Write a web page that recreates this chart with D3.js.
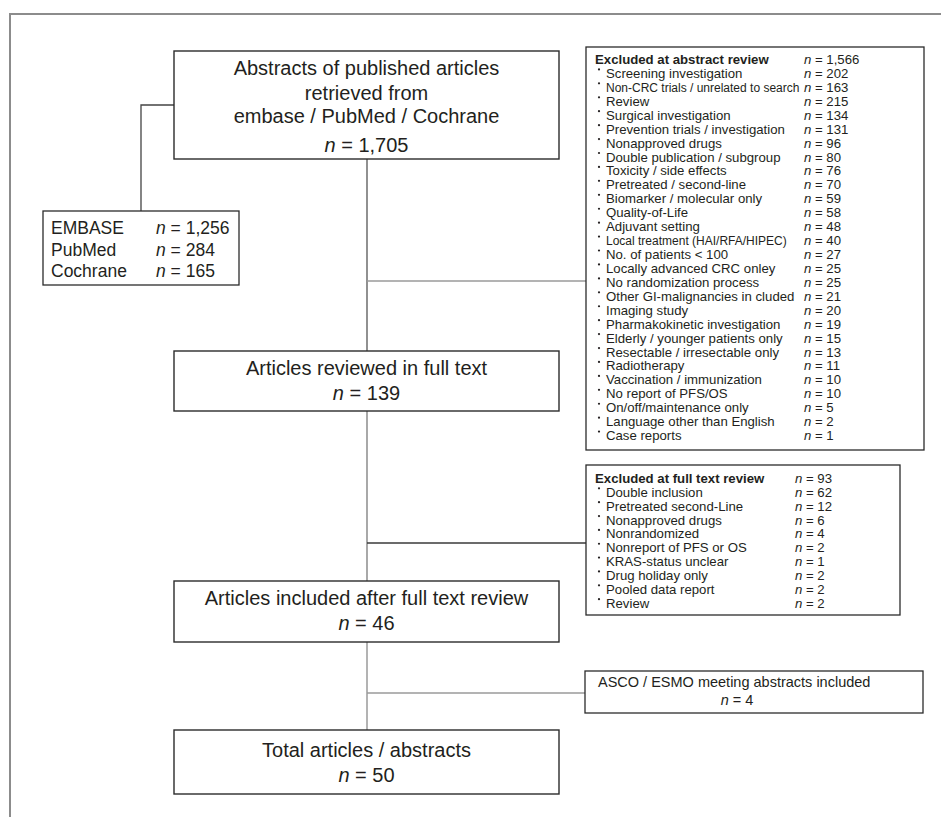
<!DOCTYPE html>
<html>
<head>
<meta charset="utf-8">
<script src="https://cdn.jsdelivr.net/npm/d3@7"></script>
<style>
  body { margin: 0; background: #fff; }
  text { font-family: "Liberation Sans", Arial, Helvetica, sans-serif; fill: #231f20; }
</style>
</head>
<body>
<svg id="svg"></svg>
<script>
// ---- data ----
const stageLines = [
  ["Abstracts of published articles", "retrieved from", "embase / PubMed / Cochrane"],
  ["Articles reviewed in full text"],
  ["Articles included after full text review"],
  ["Total articles / abstracts"]
];
const stageCounts = ["1,705", "139", "46", "50"];

const sourceNames = ["EMBASE", "PubMed", "Cochrane"];
const sourceCounts = ["1,256", "284", "165"];

const abstractHeader = "Excluded at abstract review";
const abstractTotal = "1,566";
const abstractReasons = [
  "Screening investigation", "Non-CRC trials / unrelated to search", "Review",
  "Surgical investigation", "Prevention trials / investigation", "Nonapproved drugs",
  "Double publication / subgroup", "Toxicity / side effects", "Pretreated / second-line",
  "Biomarker / molecular only", "Quality-of-Life", "Adjuvant setting",
  "Local treatment (HAI/RFA/HIPEC)", "No. of patients < 100", "Locally advanced CRC onley",
  "No randomization process", "Other GI-malignancies in cluded", "Imaging study",
  "Pharmakokinetic investigation", "Elderly / younger patients only", "Resectable / irresectable only",
  "Radiotherapy", "Vaccination / immunization", "No report of PFS/OS",
  "On/off/maintenance only", "Language other than English", "Case reports"
];
const abstractCounts = [
  "202", "163", "215", "134", "131", "96", "80", "76", "70", "59", "58", "48", "40", "27",
  "25", "25", "21", "20", "19", "15", "13", "11", "10", "10", "5", "2", "1"
];
// rows typeset a little narrower in the original
const condensedReasons = ["Non-CRC trials / unrelated to search", "Local treatment (HAI/RFA/HIPEC)"];

const fullTextHeader = "Excluded at full text review";
const fullTextTotal = "93";
const fullTextReasons = [
  "Double inclusion", "Pretreated second-Line", "Nonapproved drugs", "Nonrandomized",
  "Nonreport of PFS or OS", "KRAS-status unclear", "Drug holiday only", "Pooled data report", "Review"
];
const fullTextCounts = ["62", "12", "6", "4", "2", "1", "2", "2", "2"];

const meetingLabel = "ASCO / ESMO meeting abstracts included";
const meetingCount = "4";

// ---- layout ----
let layout = {
  width: 941, height: 817,
  frameX: 10, frameY: 14,
  spineX: 367,
  stageX: 174, stageW: 385,
  stages: [
    {y: 51, h: 108, base: [75, 100, 123, 152]},
    {y: 351, h: 60, base: [375, 400]},
    {y: 581, h: 61, base: [605, 630]},
    {y: 730, h: 64, base: [757, 782]}
  ],
  source: {x: 43, y: 211, w: 196, h: 74, labelX: 51, countX: 156, first: 234, last: 277, branchX: 141, branchY: 105},
  abstractBox: {x: 586, y: 47, w: 338, h: 403, headX: 595, bulletX: 599, textX: 606, countX: 804, first: 64, step: 13.93},
  fullBox: {x: 586, y: 465, w: 314, h: 150, headX: 595, bulletX: 599, textX: 606, countX: 795, first: 483, step: 13.85},
  meetingBox: {x: 585, y: 671, w: 338, h: 42, textX: 598, countX: 737, base: [687, 705]},
  branches: [{y: 281, color: "#9a9a9a"}, {y: 543, color: "#3a3a3a"}, {y: 693, color: "#9a9a9a"}],
  spineColors: ["#555", "#7a7a7a", "#8a8a8a"]
};

let svg = d3.select("#svg")
  .attr("width", layout.width)
  .attr("height", layout.height);

function addCount(sel, value) {
  sel.append("tspan").attr("font-style", "italic").text("n");
  sel.append("tspan").text(" = " + value);
}

// outer frame (top and left edges only)
svg.append("path")
  .attr("d", `M${layout.frameX},${layout.height} V${layout.frameY} H${layout.width}`)
  .attr("fill", "none")
  .attr("stroke", "#8c8c8c")
  .attr("stroke-width", 2);

// spine between stage boxes
const stageCenter = layout.stageX + layout.stageW / 2;
for (let i = 0; i < layout.stages.length - 1; i++) {
  let a = layout.stages[i], b = layout.stages[i + 1];
  svg.append("line")
    .attr("x1", layout.spineX).attr("x2", layout.spineX)
    .attr("y1", a.y + a.h).attr("y2", b.y)
    .attr("stroke", layout.spineColors[i])
    .attr("stroke-width", 1.3);
}

// branches out to side boxes
svg.selectAll(".branch")
  .data(layout.branches)
  .join("line")
  .attr("class", "branch")
  .attr("x1", layout.spineX)
  .attr("x2", layout.abstractBox.x)
  .attr("y1", d => d.y).attr("y2", d => d.y)
  .attr("stroke", d => d.color)
  .attr("stroke-width", 1.3);

// connector to source box
const src = layout.source;
svg.append("path")
  .attr("d", `M${layout.stageX},${src.branchY} H${src.branchX} V${src.y}`)
  .attr("fill", "none")
  .attr("stroke", "#444")
  .attr("stroke-width", 1.3);

// stage boxes
const stageGroups = svg.selectAll(".stage")
  .data(stageLines.map((lines, i) => ({lines, count: stageCounts[i], box: layout.stages[i]})))
  .join("g")
  .attr("class", "stage");

stageGroups.append("rect")
  .attr("x", layout.stageX).attr("y", d => d.box.y)
  .attr("width", layout.stageW).attr("height", d => d.box.h)
  .attr("fill", "#fff").attr("stroke", "#2b2b2b").attr("stroke-width", 1.4);

stageGroups.each(function(d) {
  let g = d3.select(this);
  d.lines.forEach((line, j) => {
    g.append("text")
      .attr("x", stageCenter).attr("y", d.box.base[j])
      .attr("text-anchor", "middle")
      .attr("font-size", 20)
      .text(line);
  });
  g.append("text")
    .attr("x", stageCenter).attr("y", d.box.base[d.lines.length])
    .attr("text-anchor", "middle")
    .attr("font-size", 20)
    .call(addCount, d.count);
});

// source box
svg.append("rect")
  .attr("x", src.x).attr("y", src.y).attr("width", src.w).attr("height", src.h)
  .attr("fill", "#fff").attr("stroke", "#2b2b2b").attr("stroke-width", 1.3);

const srcY = d3.scaleLinear().domain([0, sourceNames.length - 1]).range([src.first, src.last]);

svg.selectAll(".srcName")
  .data(sourceNames)
  .join("text")
  .attr("class", "srcName")
  .attr("x", src.labelX).attr("y", (d, i) => srcY(i))
  .attr("font-size", 17.5)
  .text(d => d);

svg.selectAll(".srcCount")
  .data(sourceCounts)
  .join("text")
  .attr("class", "srcCount")
  .attr("x", src.countX).attr("y", (d, i) => srcY(i))
  .attr("font-size", 17.5)
  .each(function(d) { d3.select(this).call(addCount, d); });

// exclusion list boxes
function drawList(box, header, total, reasons, counts) {
  let g = svg.append("g");
  g.append("rect")
    .attr("x", box.x).attr("y", box.y).attr("width", box.w).attr("height", box.h)
    .attr("fill", "#fff").attr("stroke", "#2b2b2b").attr("stroke-width", 1.3);

  let rowY = d3.scaleLinear()
    .domain([0, reasons.length])
    .range([box.first, box.first + box.step * reasons.length]);

  g.append("text")
    .attr("x", box.headX).attr("y", rowY(0))
    .attr("font-size", 13.2).attr("font-weight", "bold")
    .text(header);
  g.append("text")
    .attr("x", box.countX).attr("y", rowY(0))
    .attr("font-size", 13.2)
    .call(addCount, total);

  // small raised bullet dots
  g.selectAll(".bullet")
    .data(reasons)
    .join("circle")
    .attr("class", "bullet")
    .attr("cx", box.bulletX).attr("cy", (d, i) => rowY(i + 1) - 8.5)
    .attr("r", 1.1)
    .attr("fill", "#231f20");

  g.selectAll(".reason")
    .data(reasons)
    .join("text")
    .attr("class", "reason")
    .attr("x", box.textX).attr("y", (d, i) => rowY(i + 1))
    .attr("font-size", d => condensedReasons.includes(d) ? 12 : 13.2)
    .text(d => d);

  g.selectAll(".count")
    .data(counts)
    .join("text")
    .attr("class", "count")
    .attr("x", box.countX).attr("y", (d, i) => rowY(i + 1))
    .attr("font-size", 13.2)
    .each(function(d) { d3.select(this).call(addCount, d); });
}

drawList(layout.abstractBox, abstractHeader, abstractTotal, abstractReasons, abstractCounts);
drawList(layout.fullBox, fullTextHeader, fullTextTotal, fullTextReasons, fullTextCounts);

// meeting abstracts box
const mb = layout.meetingBox;
svg.append("rect")
  .attr("x", mb.x).attr("y", mb.y).attr("width", mb.w).attr("height", mb.h)
  .attr("fill", "#fff").attr("stroke", "#2b2b2b").attr("stroke-width", 1.3);
svg.append("text")
  .attr("x", mb.textX).attr("y", mb.base[0])
  .attr("font-size", 14.5)
  .text(meetingLabel);
svg.append("text")
  .attr("x", mb.countX).attr("y", mb.base[1])
  .attr("text-anchor", "middle")
  .attr("font-size", 14.5)
  .call(addCount, meetingCount);
</script>
</body>
</html>
